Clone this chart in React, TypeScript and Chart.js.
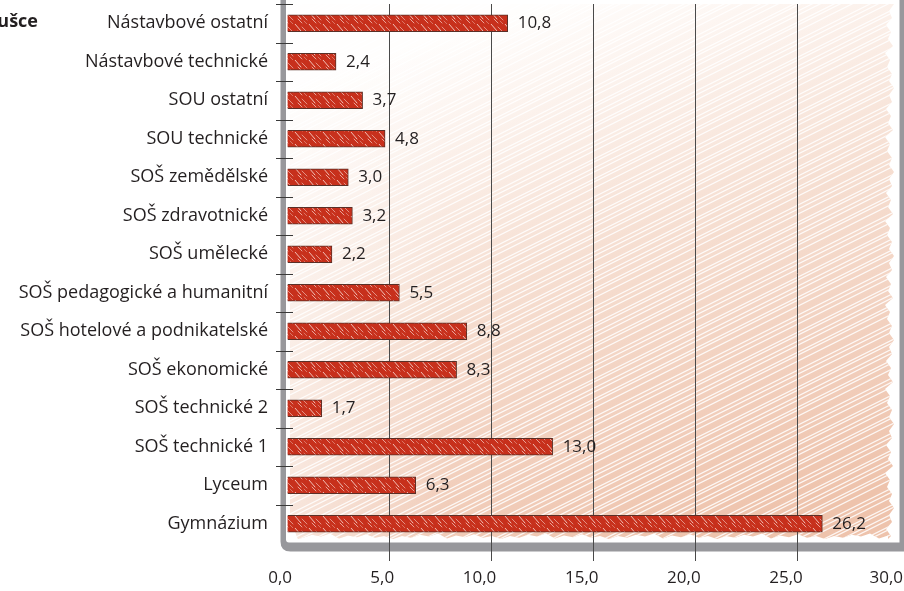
import React, { useEffect, useRef } from 'react';
import { Chart, registerables } from 'chart.js';

Chart.register(...registerables);

const categories = [
  'Nástavbové ostatní',
  'Nástavbové technické',
  'SOU ostatní',
  'SOU technické',
  'SOŠ zemědělské',
  'SOŠ zdravotnické',
  'SOŠ umělecké',
  'SOŠ pedagogické a humanitní',
  'SOŠ hotelové a podnikatelské',
  'SOŠ ekonomické',
  'SOŠ technické 2',
  'SOŠ technické 1',
  'Lyceum',
  'Gymnázium',
];
const values = [10.8, 2.4, 3.7, 4.8, 3.0, 3.2, 2.2, 5.5, 8.8, 8.3, 1.7, 13.0, 6.3, 26.2];
const xTickValues = [0, 5, 10, 15, 20, 25, 30];
const titleFragment = 'ušce';

const FONT = '"Open Sans", "Noto Sans", sans-serif';
const W = 904;
const H = 591;

const fmt = (v: number) => v.toFixed(1).replace('.', ',');

function makeBarPattern(): CanvasPattern | string {
  const c = document.createElement('canvas');
  const tw = 14;
  const th = 12;
  c.width = tw;
  c.height = th;
  const g = c.getContext('2d');
  if (!g) return '#c7301c';
  g.fillStyle = '#c7301c';
  g.fillRect(0, 0, tw, th);
  const segs: [number, number, number, number, number][] = [
    [1, 0, 7, 7, 0.75],
    [8, 3, 13, 8, 0.5],
    [4, 7, 8, 11, 0.6],
    [10, 9, 13, 12, 0.35],
  ];
  g.lineCap = 'round';
  for (const [xa, ya, xb, yb, a] of segs) {
    g.strokeStyle = `rgba(255,240,235,${a})`;
    g.lineWidth = 1;
    g.beginPath();
    g.moveTo(xa, ya);
    g.lineTo(xb, yb);
    g.stroke();
  }
  const p = g.createPattern(c, 'repeat');
  return p || '#c7301c';
}

const decorPlugin = {
  id: 'decor',
  beforeDraw(chart: any) {
    const { ctx, chartArea: a } = chart;
    ctx.save();
    ctx.fillStyle = '#ffffff';
    ctx.fillRect(0, 0, chart.width, chart.height);

    // hatched salmon background
    const x0 = a.left + 3;
    const x1 = a.right - 6;
    const y0 = a.top;
    const y1 = a.bottom - 4;
    const jag = [0, 5, 2, 8, 3, 6, 1, 9, 4, 7, 2, 5];
    ctx.beginPath();
    ctx.moveTo(x0, y0);
    ctx.lineTo(x1 - 10, y0);
    let i = 0;
    for (let y = y0; y <= y1; y += 7) {
      ctx.lineTo(x1 - jag[i % jag.length], y);
      i++;
    }
    ctx.lineTo(x1 - 6, y1);
    for (let x = x1 - 6; x >= x0 + 10; x -= 9) {
      ctx.lineTo(x, y1 - jag[i % jag.length] * 0.6);
      i++;
    }
    ctx.lineTo(x0 + 8, y1);
    ctx.lineTo(x0, y1 - 20);
    ctx.closePath();
    ctx.clip();

    const grad = ctx.createLinearGradient(x0 + 250, y0, x0 + 420, y1);
    grad.addColorStop(0, '#fffefd');
    grad.addColorStop(0.12, '#fdf6f2');
    grad.addColorStop(0.45, '#f6dfd2');
    grad.addColorStop(0.8, '#f1cdba');
    grad.addColorStop(1, '#eec3ac');
    ctx.fillStyle = grad;
    ctx.fillRect(x0, y0, x1 - x0, y1 - y0);

    // paler left side
    const lg = ctx.createLinearGradient(x0, 0, x0 + 160, 0);
    lg.addColorStop(0, 'rgba(255,255,255,0.45)');
    lg.addColorStop(1, 'rgba(255,255,255,0)');
    ctx.fillStyle = lg;
    ctx.fillRect(x0, y0, 160, y1 - y0);

    // white diagonal strokes (rising to the right)
    const gaps = [4, 7, 3, 6, 9, 4, 5, 8, 3, 6];
    ctx.strokeStyle = 'rgba(255,255,255,0.85)';
    ctx.lineWidth = 1.3;
    const span = x1 - x0;
    let k = 0;
    for (let c = y0 - 10; c < y1 + span * 0.5 + 20; c += gaps[k % gaps.length]) {
      ctx.beginPath();
      ctx.moveTo(x0, c);
      ctx.lineTo(x1, c - span * 0.5);
      ctx.stroke();
      k++;
    }
    ctx.restore();

    // gray rounded frame
    ctx.save();
    ctx.fillStyle = '#98989c';
    ctx.beginPath();
    const ol = a.left - 6.5;
    const or = W + 10;
    const ob = a.bottom + 8.5;
    const r = 10;
    ctx.moveTo(ol, -20);
    ctx.lineTo(ol, ob - r);
    ctx.quadraticCurveTo(ol, ob, ol + r, ob);
    ctx.lineTo(or, ob);
    ctx.lineTo(or, -20);
    ctx.closePath();
    const il = a.left - 1;
    const ir = a.right - 0.5;
    const ib = a.bottom - 0.5;
    const ri = 3;
    ctx.moveTo(il, -20);
    ctx.lineTo(ir, -20);
    ctx.lineTo(ir, ib);
    ctx.lineTo(il + ri, ib);
    ctx.quadraticCurveTo(il, ib, il, ib - ri);
    ctx.closePath();
    ctx.fill('evenodd');
    ctx.restore();
  },
  beforeDatasetsDraw(chart: any) {
    const { ctx } = chart;
    const ys = chart.scales.y;
    const a = chart.chartArea;
    ctx.save();
    ctx.strokeStyle = '#3a3a3a';
    ctx.lineWidth = 1;
    for (let i = 0; i < categories.length; i++) {
      const y = Math.round(ys.getPixelForValue(i - 0.5)) + 0.5;
      ctx.beginPath();
      ctx.moveTo(a.left - 11, y);
      ctx.lineTo(a.left + 6, y);
      ctx.stroke();
    }
    ctx.restore();
  },
  afterDatasetsDraw(chart: any) {
    const { ctx } = chart;
    const meta = chart.getDatasetMeta(0);
    ctx.save();
    ctx.font = `17px ${FONT}`;
    ctx.fillStyle = '#231f20';
    ctx.textAlign = 'left';
    ctx.textBaseline = 'middle';
    meta.data.forEach((el: any, idx: number) => {
      ctx.fillText(fmt(values[idx]), el.x + 10, el.y);
    });

    const xs = chart.scales.x;
    ctx.textAlign = 'right';
    xTickValues.forEach((v) => {
      const x = Math.min(xs.getPixelForValue(v) + 5, W - 1);
      ctx.fillText(fmt(v), x, 578);
    });

    ctx.font = `bold 18px ${FONT}`;
    ctx.textAlign = 'right';
    ctx.fillText(titleFragment, 38, 22);
    ctx.restore();
  },
};

export default function App() {
  const ref = useRef<HTMLCanvasElement | null>(null);

  useEffect(() => {
    const canvas = ref.current;
    if (!canvas) return;
    const pattern = makeBarPattern();
    const chart = new Chart(canvas, {
      type: 'bar',
      data: {
        labels: categories,
        datasets: [
          {
            data: values,
            backgroundColor: pattern as any,
            borderColor: '#5a3028',
            borderWidth: 1,
            barThickness: 17,
          },
        ],
      },
      options: {
        indexAxis: 'y',
        responsive: false,
        animation: false,
        devicePixelRatio: 1,
        layout: { padding: { top: 4, right: 4, left: 0, bottom: 0 } },
        plugins: {
          legend: { display: false },
          tooltip: { enabled: false },
          title: { display: false },
        },
        scales: {
          x: {
            type: 'linear',
            min: 0,
            max: 30,
            ticks: { stepSize: 5, display: false },
            border: { display: false },
            grid: {
              color: (c: any) =>
                c.tick && (c.tick.value === 0 || c.tick.value === 30) ? 'rgba(0,0,0,0)' : '#4a4a4a',
              lineWidth: 1,
              drawTicks: true,
              tickLength: 18,
            },
            afterFit: (s: any) => {
              s.height = 48;
              s.paddingLeft = 0;
              s.paddingRight = 0;
            },
          },
          y: {
            type: 'category',
            offset: true,
            border: { display: false },
            grid: { display: false, drawTicks: true, tickLength: 19 },
            ticks: {
              color: '#231f20',
              font: { family: FONT, size: 18 },
              padding: 0,
              autoSkip: false,
            },
            afterFit: (s: any) => {
              s.width = 287;
              s.paddingTop = 0;
              s.paddingBottom = 0;
            },
          },
        },
      },
      plugins: [decorPlugin],
    });
    return () => chart.destroy();
  }, []);

  return (
    <div style={{ position: 'fixed', left: 0, top: 0, width: W, height: H, background: '#fff' }}>
      <canvas ref={ref} width={W} height={H} style={{ display: 'block', width: W, height: H }} />
    </div>
  );
}
